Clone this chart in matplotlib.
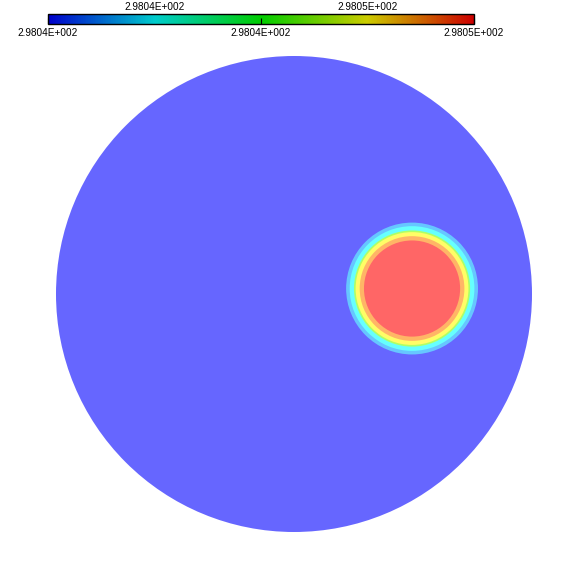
import numpy as np
import matplotlib
matplotlib.use("Agg")
import matplotlib.pyplot as plt
from matplotlib.colors import LinearSegmentedColormap, Normalize, to_rgb
from matplotlib.patches import Circle
from matplotlib.cm import ScalarMappable

plt.rcParams['font.family'] = ['Liberation Sans', 'DejaVu Sans']

# temperature range shown on the colour bar
t_min, t_max = 298.040, 298.050
bar_ticks_bottom = [298.040, 298.045, 298.050]
bar_labels_bottom = ['2.9804E+002', '2.9804E+002', '2.9805E+002']
bar_ticks_top = [298.0425, 298.0475]
bar_labels_top = ['2.9804E+002', '2.9805E+002']

# colour ramp (blue -> cyan -> green -> yellow -> red)
ramp_hues = ['#0000ff', '#00ffff', '#00ff00', '#ffff00', '#ff0000']

# disc domain (unit radius) and the hot spot bands, outermost first
domain_value = 298.040
spot_center = (0.496, 0.023)
ring_radius = [0.277, 0.262, 0.244, 0.237, 0.220, 0.202]
ring_value = [298.0416, 298.0425, 298.0462, 298.0475, 298.0487, 298.0500]

field_cmap = LinearSegmentedColormap.from_list("field", ramp_hues)
bar_cmap = LinearSegmentedColormap.from_list(
    "bar", [tuple(0.8 * c for c in to_rgb(h)) for h in ramp_hues])
norm = Normalize(t_min, t_max)


def washed(v, alpha=0.6):
    # translucent fill over white, flattened so overlapping bands don't stack
    c = np.array(field_cmap(norm(v))[:3])
    return tuple(alpha * c + (1 - alpha))


W = 587
fig = plt.figure(figsize=(W / 100, W / 100), dpi=100)
ax = fig.add_axes([0, 0, 1, 1])
ax.set_axis_off()
px = 238.0  # pixels per unit radius
cx, cy = 294.0, 294.0
ax.set_xlim(-cx / px, (W - cx) / px)
ax.set_ylim(-(W - cy) / px, cy / px)
ax.set_aspect('equal')

ax.add_patch(Circle((0, 0), 1.0, facecolor=washed(domain_value), edgecolor='none'))
for r, v in zip(ring_radius, ring_value):
    ax.add_patch(Circle(spot_center, r, facecolor=washed(v), edgecolor='none'))

# colour bar across the top
cax = fig.add_axes([48 / W, 1 - 24 / W, 426 / W, 9.7 / W])
cb = fig.colorbar(ScalarMappable(norm=norm, cmap=bar_cmap), cax=cax,
                  orientation='horizontal')
cb.outline.set_linewidth(1.0)
cb.set_ticks(bar_ticks_bottom)
cb.set_ticklabels(bar_labels_bottom)
cax.tick_params(axis='x', direction='in', length=4.5, width=0.8,
                labelsize=7.2, pad=3)
top = cax.secondary_xaxis('top')
top.set_xticks(bar_ticks_top)
top.set_xticklabels(bar_labels_top)
top.tick_params(axis='x', direction='in', length=3.5, width=0.8,
                labelsize=7.2, pad=2)
for s in top.spines.values():
    s.set_visible(False)

fig.savefig("out.png", dpi=100, facecolor='white')
